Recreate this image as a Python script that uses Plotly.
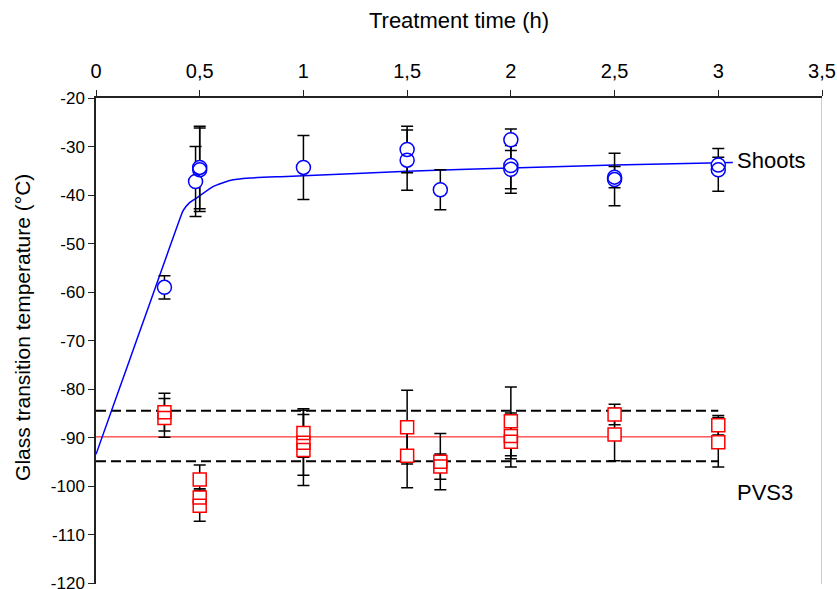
import plotly.graph_objects as go

# Shoots: treatment time (h), glass transition temperature (°C), SD
shoot_t = [0.33, 0.48, 0.5, 0.5, 1.0, 1.5, 1.5, 1.66, 2.0, 2.0, 2.0, 2.5, 2.5, 3.0, 3.0]
shoot_tg = [-59.0, -37.2, -34.8, -34.3, -34.3, -30.6, -32.8, -38.9, -28.6, -33.9, -34.7, -36.3, -36.8, -33.8, -34.8]
shoot_sd = [2.4, 7.2, 8.6, 8.5, 6.6, 4.8, 6.2, 4.1, 2.2, 4.8, 4.9, 2.2, 5.4, 1.6, 4.4]

# PVS3 solution
pvs_t = [0.33, 0.33, 0.5, 0.5, 0.5, 1.0, 1.0, 1.0, 1.5, 1.5, 1.66, 1.66,
         2.0, 2.0, 2.0, 2.5, 2.5, 3.0, 3.0]
pvs_tg = [-84.7, -85.9, -98.6, -102.3, -104.0, -89.0, -91.0, -92.5, -87.8, -93.7, -94.9, -95.9,
          -86.6, -89.6, -90.8, -85.2, -89.3, -87.4, -90.9]
pvs_sd = [3.9, 4.0, 3.0, 1.8, 3.2, 5.0, 6.7, 7.3, 7.6, 6.6, 5.8, 2.6,
          7.1, 4.7, 5.2, 2.1, 5.4, 2.0, 5.1]

# Fitted curve for shoots
fit_t = [0.0, 0.1, 0.2, 0.3, 0.4, 0.42, 0.45, 0.485, 0.566, 0.646, 0.742, 0.89,
         1.0, 1.5, 2.0, 2.5, 3.07]
fit_tg = [-93.4, -81.4, -69.4, -57.4, -45.4, -43.2, -41.6, -40.6, -38.2, -37.0, -36.5, -36.2,
          -36.0, -35.1, -34.4, -33.8, -33.3]

# PVS3 mean and band
pvs_mean = -89.8
pvs_upper = -84.4
pvs_lower = -94.8
band_t = [0.0, 3.0]

x_ticks = [0, 0.5, 1, 1.5, 2, 2.5, 3, 3.5]
x_ticktext = ["0", "0,5", "1", "1,5", "2", "2,5", "3", "3,5"]
y_ticks = [-120, -110, -100, -90, -80, -70, -60, -50, -40, -30, -20]
y_ticktext = ["-120", "-110", "-100", "-90", "-80", "-70", "-60", "-50", "-40", "-30", "-20"]

FONT = "Liberation Sans, Arial, sans-serif"
BLUE = "#0000ff"
RED = "#ff0000"

fig = go.Figure()

# reference lines for PVS3
fig.add_trace(go.Scatter(x=band_t, y=[pvs_mean] * 2, mode="lines",
                         line=dict(color=RED, width=1), hoverinfo="skip"))
for yv in (pvs_upper, pvs_lower):
    fig.add_trace(go.Scatter(x=band_t, y=[yv] * 2, mode="lines",
                             line=dict(color="black", width=2, dash="10px,5px"),
                             hoverinfo="skip"))

# fitted curve
fig.add_trace(go.Scatter(x=fit_t, y=fit_tg, mode="lines",
                         line=dict(color=BLUE, width=1.5, shape="spline", smoothing=0.5),
                         hoverinfo="skip"))

# error bars
err_style = dict(type="data", color="black", thickness=1.5, width=6)
fig.add_trace(go.Scatter(x=shoot_t, y=shoot_tg, mode="markers", marker=dict(size=1, opacity=0),
                         error_y=dict(array=shoot_sd, **err_style)))
fig.add_trace(go.Scatter(x=pvs_t, y=pvs_tg, mode="markers", marker=dict(size=1, opacity=0),
                         error_y=dict(array=pvs_sd, **err_style)))

# white fill under the open symbols
fig.add_trace(go.Scatter(x=shoot_t, y=shoot_tg, mode="markers",
                         marker=dict(symbol="circle", size=14, color="white",
                                     line=dict(width=0))))
fig.add_trace(go.Scatter(x=pvs_t, y=pvs_tg, mode="markers",
                         marker=dict(symbol="square", size=13, color="white",
                                     line=dict(width=0))))

# open symbols
fig.add_trace(go.Scatter(x=shoot_t, y=shoot_tg, mode="markers", name="Shoots",
                         marker=dict(symbol="circle-open", size=14, color=BLUE,
                                     line=dict(width=1.5, color=BLUE))))
fig.add_trace(go.Scatter(x=pvs_t, y=pvs_tg, mode="markers", name="PVS3",
                         marker=dict(symbol="square-open", size=13, color=RED,
                                     line=dict(width=1.5, color=RED))))

fig.add_annotation(x=3.082, y=-32.8, text="Shoots", showarrow=False, xanchor="left",
                   font=dict(family=FONT, size=22, color="black"))
fig.add_annotation(x=3.082, y=-101.2, text="PVS3", showarrow=False, xanchor="left",
                   font=dict(family=FONT, size=22, color="black"))

# y-axis title
fig.add_annotation(xref="paper", yref="paper", x=0, y=0.527, xshift=-73,
                   text="Glass transition temperature (°C)", textangle=-90,
                   showarrow=False, xanchor="center", yanchor="middle",
                   font=dict(family=FONT, size=21, color="black"))

# right frame line
fig.add_shape(type="line", xref="x", yref="paper", x0=3.5, x1=3.5, y0=0, y1=1,
              line=dict(color="#999999", width=1))

fig.update_layout(
    width=837, height=589,
    margin=dict(l=96, r=15, t=98, b=5),
    paper_bgcolor="white", plot_bgcolor="white",
    showlegend=False,
    font=dict(family=FONT, size=20, color="black"),
    xaxis=dict(
        side="top", range=[0, 3.5], tickvals=x_ticks, ticktext=x_ticktext,
        ticks="outside", ticklen=6, tickwidth=1, tickcolor="#222",
        showline=True, linecolor="#222", linewidth=1.5, showgrid=False, zeroline=False,
        title=dict(text="Treatment time (h)", font=dict(size=22), standoff=26),
        tickfont=dict(size=20), ticklabelstandoff=4, automargin=False,
    ),
    yaxis=dict(
        range=[-120.1, -20], tickvals=y_ticks, ticktext=y_ticktext,
        ticks="outside", ticklen=6, tickwidth=1, tickcolor="#222",
        showline=True, linecolor="#222", linewidth=1.5, showgrid=False, zeroline=False,
        tickfont=dict(size=17), ticklabeloverflow="allow", automargin=False,
    ),
)

fig.write_html("out.html")
